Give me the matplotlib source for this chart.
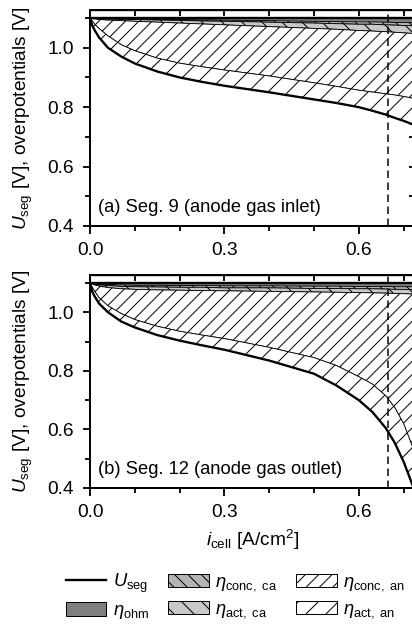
import numpy as np
import matplotlib
matplotlib.use('Agg')
import matplotlib.pyplot as plt
from matplotlib.patches import Patch
from matplotlib.lines import Line2D
from matplotlib.ticker import MultipleLocator, NullFormatter

plt.rcParams['font.family'] = ['Liberation Sans', 'DejaVu Sans']
plt.rcParams['mathtext.fontset'] = 'custom'
plt.rcParams['mathtext.rm'] = 'Liberation Sans'
plt.rcParams['mathtext.it'] = 'Liberation Sans:italic'
plt.rcParams['hatch.linewidth'] = 0.6

# current density grid [A/cm2]
i_cell = [0, 0.005, 0.01, 0.02, 0.04, 0.07, 0.1, 0.15, 0.2, 0.25, 0.3,
          0.4, 0.5, 0.55, 0.6, 0.63, 0.66, 0.68, 0.7, 0.72, 0.75]
U_ocv = 1.1
i_op = 0.665

# (a) Seg. 9 - overpotentials [V]
eta_ohm_a = [0, .001, .001, .002, .002, .003, .003, .004, .005, .006, .007,
             .009, .011, .012, .013, .013, .014, .015, .015, .016, .017]
eta_conc_ca_a = [0, 0, .001, .001, .001, .002, .002, .003, .003, .004, .004,
                 .005, .006, .007, .008, .008, .009, .009, .010, .010, .011]
eta_act_ca_a = [0, .001, .001, .002, .004, .004, .006, .007, .009, .010, .012,
                .015, .018, .019, .021, .023, .023, .024, .025, .026, .027]
eta_conc_an_a = [0, .008, .017, .030, .053, .081, .099, .121, .135, .144, .152,
                 .166, .183, .192, .201, .205, .209, .211, .214, .218, .225]
eta_act_an_a = [0, .015, .020, .030, .040, .040, .043, .045, .048, .051, .053,
                .055, .056, .056, .057, .063, .070, .077, .082, .088, .100]

# (b) Seg. 12 - overpotentials [V]
eta_ohm_b = [0, .001, .002, .004, .005, .007, .008, .008, .009, .009, .010,
             .010, .011, .011, .012, .012, .012, .013, .013, .013, .014]
eta_conc_ca_b = [0, .001, .002, .003, .004, .005, .005, .006, .006, .006, .007,
                 .007, .008, .008, .008, .008, .009, .009, .009, .010, .010]
eta_act_ca_b = [0, .002, .003, .004, .007, .008, .009, .010, .010, .011, .010,
                .012, .012, .013, .013, .014, .014, .014, .015, .015, .016]
eta_conc_an_b = [0, .011, .021, .039, .062, .085, .103, .124, .140, .152, .163,
                 .191, .224, .250, .287, .311, .350, .389, .443, .522, .660]
eta_act_an_b = [0, .015, .017, .020, .022, .027, .027, .030, .032, .035, .038,
                .045, .055, .068, .080, .095, .110, .120, .130, .130, .140]

labels = [r'$\eta_\mathrm{ohm}$', r'$\eta_\mathrm{conc,\ ca}$', r'$\eta_\mathrm{act,\ ca}$',
          r'$\eta_\mathrm{conc,\ an}$', r'$\eta_\mathrm{act,\ an}$']
colors = ['#7f7f7f', '#b4b4b4', '#c8c8c8', 'white', 'white']
hatches = [None, '\\\\\\', '\\\\', '///', '//']

FS = 11.5
fig = plt.figure(figsize=(412 / 120, 630 / 120), dpi=120)
W = 324.8 / 412
ax_a = fig.add_axes([90 / 412, (630 - 226) / 630, W, 216 / 630])
ax_b = fig.add_axes([90 / 412, (630 - 488) / 630, W, 213 / 630])


def draw_panel(ax, etas, title):
    upper = np.full(len(i_cell), U_ocv)
    for eta, fc, h in zip(etas, colors, hatches):
        lower = upper - np.array(eta)
        ax.fill_between(i_cell, lower, upper, facecolor=fc, hatch=h,
                        edgecolor='black', linewidth=0.5)
        upper = lower
    ax.plot(i_cell, upper, color='black', lw=1.4)
    ax.axhline(U_ocv, color='black', lw=1.4)
    ax.axvline(i_op, color='black', lw=0.9, ls=(0, (5, 3)))
    ax.set_xlim(0, 0.725)
    ax.set_ylim(0.4, 1.127)
    ax.xaxis.set_major_locator(MultipleLocator(0.3))
    ax.xaxis.set_minor_locator(MultipleLocator(0.1))
    ax.yaxis.set_major_locator(MultipleLocator(0.2))
    ax.yaxis.set_minor_locator(MultipleLocator(0.1))
    ax.tick_params(which='both', direction='out', width=1.1, labelsize=FS)
    ax.tick_params(which='major', length=4.5, pad=5)
    ax.tick_params(which='minor', length=3)
    for s in ax.spines.values():
        s.set_linewidth(1.2)
    top = ax.secondary_xaxis('top')
    top.xaxis.set_major_locator(MultipleLocator(0.1))
    top.xaxis.set_major_formatter(NullFormatter())
    top.tick_params(direction='in', length=3.5, width=1.1)
    right = ax.secondary_yaxis('right')
    right.yaxis.set_major_locator(MultipleLocator(0.1))
    right.yaxis.set_major_formatter(NullFormatter())
    right.tick_params(direction='in', length=3.5, width=1.1)
    ax.text(0.025, 0.085, title, transform=ax.transAxes, fontsize=11, va='center')
    ax.set_ylabel(r'$U_\mathrm{seg}$ [V], overpotentials [V]', fontsize=FS)
    ax.yaxis.set_label_coords(-0.17, 0.5)


draw_panel(ax_a, [eta_ohm_a, eta_conc_ca_a, eta_act_ca_a, eta_conc_an_a, eta_act_an_a],
           '(a) Seg. 9 (anode gas inlet)')
draw_panel(ax_b, [eta_ohm_b, eta_conc_ca_b, eta_act_ca_b, eta_conc_an_b, eta_act_an_b],
           '(b) Seg. 12 (anode gas outlet)')
ax_b.set_xlabel(r'$i_\mathrm{cell}$ [A/cm$^2$]', fontsize=FS, labelpad=4)

handles = [Line2D([], [], color='black', lw=1.4)]
for fc, h in zip(colors, hatches):
    handles.append(Patch(facecolor=fc, hatch=h, edgecolor='black', linewidth=0.6))
fig.legend(handles, [r'$U_\mathrm{seg}$'] + labels, ncol=3, loc='center',
           bbox_to_anchor=(0.572, 0.053), frameon=False, fontsize=11,
           handlelength=2.2, handleheight=0.75, handletextpad=0.35,
           columnspacing=1.05, labelspacing=0.4)

fig.savefig('out.png', dpi=120)
